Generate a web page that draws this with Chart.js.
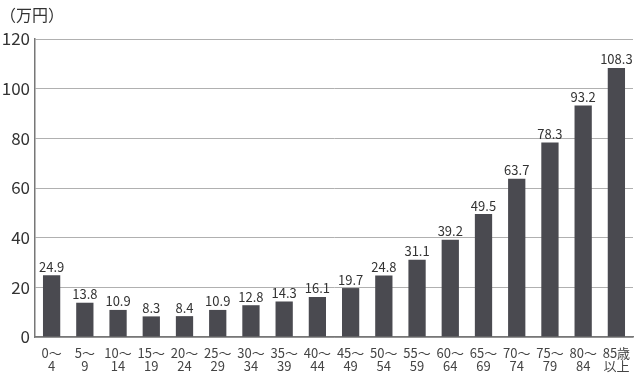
<!DOCTYPE html>
<html>
<head>
<meta charset="utf-8">
<script src="https://cdn.jsdelivr.net/npm/chart.js@4"></script>
<style>
  html, body { margin: 0; padding: 0; background: #fff; }
  #wrap { width: 640px; height: 374px; }
</style>
</head>
<body>
<div id="wrap"><canvas id="bar-chart" width="640" height="374"></canvas></div>
<script>
const ageGroups = [
  ["0～", "4"], ["5～", "9"], ["10～", "14"], ["15～", "19"], ["20～", "24"],
  ["25～", "29"], ["30～", "34"], ["35～", "39"], ["40～", "44"], ["45～", "49"],
  ["50～", "54"], ["55～", "59"], ["60～", "64"], ["65～", "69"], ["70～", "74"],
  ["75～", "79"], ["80～", "84"], ["85歳", "以上"]
];
const costs = [24.9, 13.8, 10.9, 8.3, 8.4, 10.9, 12.8, 14.3, 16.1, 19.7, 24.8, 31.1, 39.2, 49.5, 63.7, 78.3, 93.2, 108.3];
const yTicks = [0, 20, 40, 60, 80, 100, 120];
const unitLabel = "（万円）";

const fontFamily = "'Noto Sans CJK JP', 'Noto Sans', sans-serif";

// value labels above each bar + unit label at top-left
const barLabels = {
  id: "barLabels",
  afterDatasetsDraw(chart) {
    const ctx = chart.ctx;
    ctx.save();
    ctx.fillStyle = "#333";
    ctx.font = "13px " + fontFamily;
    ctx.textAlign = "center";
    ctx.textBaseline = "bottom";
    chart.getDatasetMeta(0).data.forEach((bar, i) => {
      ctx.fillText(costs[i].toFixed(1), bar.x, bar.y - 2);
    });
    ctx.font = "16px " + fontFamily;
    ctx.textAlign = "left";
    ctx.textBaseline = "middle";
    ctx.fillText(unitLabel, 0, 15);
    ctx.restore();
  }
};

new Chart(document.getElementById("bar-chart").getContext("2d"), {
  type: "bar",
  data: {
    labels: ageGroups,
    datasets: [{
      data: costs,
      backgroundColor: "#4a4a50",
      barPercentage: 0.52,
      categoryPercentage: 1.0
    }]
  },
  options: {
    responsive: false,
    animation: false,
    layout: { padding: { top: 39, right: 7, left: 0, bottom: 0 } },
    plugins: { legend: { display: false }, tooltip: { enabled: false } },
    scales: {
      x: {
        afterFit(scale) { scale.height = 37; },
        grid: { display: false },
        border: { color: "#777", width: 1.5 },
        ticks: {
          color: "#444",
          font: { size: 13, family: fontFamily, lineHeight: 1.0 },
          maxRotation: 0,
          autoSkip: false,
          padding: 2
        }
      },
      y: {
        min: 0,
        max: 120,
        afterFit(scale) { scale.width = 35; },
        afterBuildTicks(scale) { scale.ticks = yTicks.map(v => ({ value: v })); },
        grid: { color: "#b0b0b0", lineWidth: 1, drawTicks: false },
        border: { color: "#777", width: 1.5 },
        ticks: {
          color: "#333",
          font: { size: 17, family: fontFamily },
          padding: 5
        }
      }
    }
  },
  plugins: [barLabels]
});
</script>
</body>
</html>
